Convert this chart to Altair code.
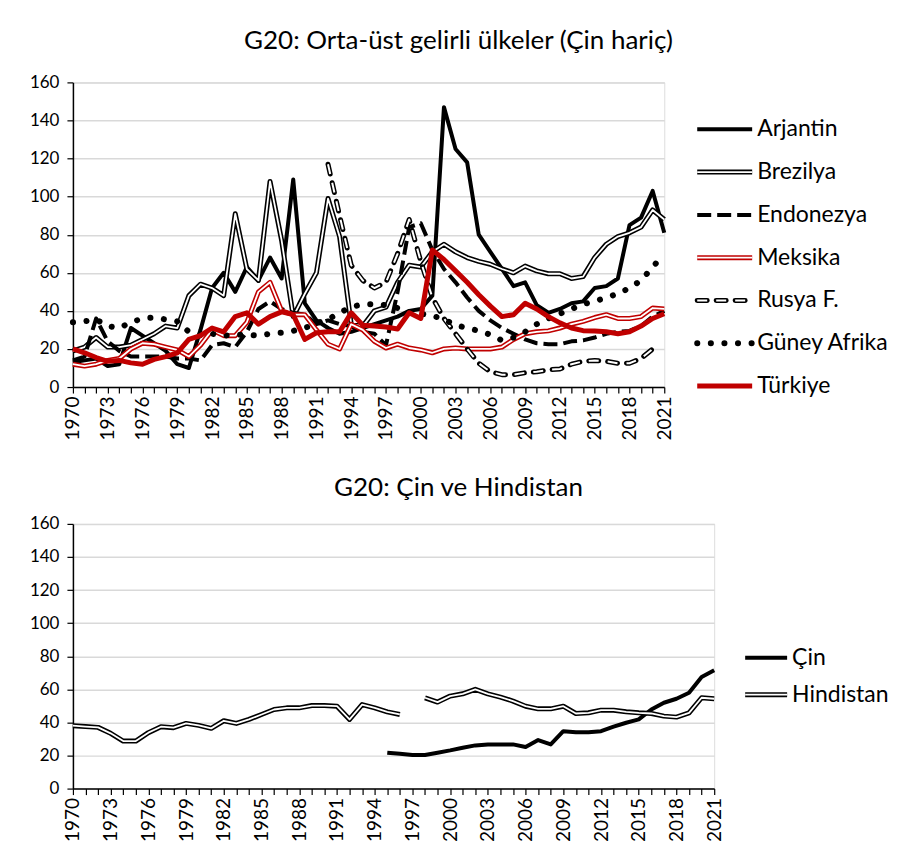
import altair as alt
import pandas as pd

years = list(range(1970, 2022))

arjantin = [13, 14, 15, 11, 12, 31, 27, 23, 19, 12,
            10, 30, 52, 60, 50, 63, 56, 68, 57, 109,
            44, 35, 31, 28, 29, 31, 33, 35, 37, 40,
            41, 48, 147, 125, 118, 80, 71, 62, 53, 55,
            43, 39, 41, 44, 45, 52, 53, 57, 85, 89,
            103, 81]
brezilya = [19, 21, 26, 21, 21, 22, 25, 28, 32, 31,
            48, 54, 52, 48, 91, 62, 56, 108, 77, 37,
            49, 60, 99, 79, 33, 32, 40, 42, 55, 64,
            63, 71, 75, 71, 68, 66, 64.5, 62, 60, 63.5,
            61, 59.5, 59.5, 57, 58, 68, 75, 79, 81, 84,
            93, 88]
endonezya = [14, 16, 36, 24, 19, 16, 16, 16, 16, 15,
             15, 14, 22, 23, 21, 29, 41, 45, 41, 39,
             38, 33, 35, 33, 32, 29, 28, 22, 50, 84,
             86, 72, 62, 55, 47, 40, 35, 31, 28, 25,
             23, 22.5, 22.5, 24, 24.5, 26, 28, 29, 29.5, 32,
             37, 40]
meksika = [12, 11, 12, 14, 15, 20, 23, 22.5, 21, 19.5,
           16, 22, 30, 27, 27, 34, 50, 55, 40, 38,
           38, 30, 22.5, 20, 33, 30, 24, 20.5, 22.5, 20.5,
           19.5, 18, 20, 20.5, 20, 20, 20, 21, 25, 28,
           29, 29.5, 31, 33, 34.5, 36.5, 38, 36, 36, 37,
           41.5, 41]
rusya = [None] * 22 + [117, 90, 64, 56, 52, 55, 70, 88,
                       66, 47, 36, 28, 20, 12.5, 8, 6.5, 6.5, 7.5,
                       8, 9, 9.5, 12, 13.5, 14, 13.5, 12.5, 12.5, 15,
                       20, None]
guney_afrika = [34, 34.5, 35.5, 32, 31, 34, 36, 36.5, 35.5, 34.5,
                29, 27, 28, 27, 27.5, 27.5, 27, 28, 28.5, 29.5,
                31, 33.5, 35.5, 39, 42, 43.5, 43.5, 43, 41.5, 39,
                38.5, 37.5, 35.5, 32.5, 31, 29.5, 27.5, 24.5, 26, 29,
                33, 36, 38.5, 41, 43.5, 45, 47, 49, 52, 56,
                63, 70]
turkiye = [20, 18, 15.5, 13.5, 14, 12.7, 12, 14.5, 16, 18,
           25, 27, 31, 29, 37, 39, 33, 37, 39.5, 38,
           25, 28.5, 29, 29, 39, 32.5, 32, 31.5, 30.5, 39,
           36, 72, 67, 61, 55, 48.5, 42.5, 37, 38, 44,
           41, 37, 33.7, 31, 29.6, 29.4, 29, 28, 29, 32,
           36, 38.5]

cin = [None] * 25 + [21.7, 21, 20.3, 20.3, 21.7,
                     23.1, 24.7, 26.1, 26.7, 26.7, 26.7, 25.1, 29.3, 26.7, 34.7,
                     34.1, 34.1, 34.7, 37.4, 39.8, 41.8, 47.8, 51.9, 54.3, 57.9,
                     67.5, 71.5]
hindistan = [38, 37.5, 37, 33.4, 28.7, 28.7, 33.8, 37.4, 36.8, 39.4,
             38.2, 36.4, 41, 39.4, 41.8, 44.8, 47.8, 48.8, 48.8, 50.2,
             50.2, 49.8, 41.8, 50.8, 48.8, 46.4, 44.8, None, 54.9, 52.3,
             55.9, 57.3, 60, 57.3, 55.3, 52.9, 49.8, 48.2, 48.2, 49.8,
             45.4, 45.8, 47.4, 47.4, 46.4, 45.8, 45.4, 43.8, 43.2, 45.8,
             54.9, 54.3]

top_names = ["Arjantin", "Brezilya", "Endonezya", "Meksika", "Rusya F.", "Güney Afrika", "Türkiye"]
top_values = [arjantin, brezilya, endonezya, meksika, rusya, guney_afrika, turkiye]
bot_names = ["Çin", "Hindistan"]
bot_values = [cin, hindistan]

y_ticks = list(range(0, 161, 20))

FONT = "Lato"
RED = "#C00000"

styles = {
    "Arjantin": [dict(color="black", strokeWidth=4)],
    "Brezilya": [dict(color="black", strokeWidth=5), dict(color="white", strokeWidth=1.8)],
    "Endonezya": [dict(color="black", strokeWidth=4, strokeDash=[14, 6])],
    "Meksika": [dict(color=RED, strokeWidth=5), dict(color="white", strokeWidth=1.8)],
    "Rusya F.": [dict(color="black", strokeWidth=5, strokeDash=[10, 9], strokeCap="round"),
                 dict(color="white", strokeWidth=2, strokeDash=[10, 9])],
    "Güney Afrika": [dict(color="black", strokeWidth=6, strokeDash=[0.1, 13.5], strokeCap="round")],
    "Türkiye": [dict(color=RED, strokeWidth=5)],
    "Çin": [dict(color="black", strokeWidth=4)],
    "Hindistan": [dict(color="black", strokeWidth=5), dict(color="white", strokeWidth=1.8)],
}


def long_df(name, values):
    rows = []
    seg = 0
    for yr, v in zip(years, values):
        if v is None:
            seg += 1
            continue
        rows.append({"year": yr, "value": v, "series": name, "seg": seg})
    return pd.DataFrame(rows)


def panel(names, values, width, height, title, dx, offset, leg_x0, leg_x1, leg_range):
    x_enc = alt.X("year:Q",
                  scale=alt.Scale(domain=[1970, 2021], nice=False, zero=False),
                  axis=alt.Axis(values=years, format="d", title=None, grid=False,
                                labelExpr="(datum.value - 1970) % 3 == 0 ? datum.label : ''",
                                labelAngle=270, labelFontSize=19, labelFont=FONT,
                                labelColor="black", labelPadding=3,
                                domainColor="black", domainWidth=1.5,
                                tickColor="black", tickSize=6, tickWidth=1.2))
    y_enc = alt.Y("value:Q",
                  scale=alt.Scale(domain=[0, 160], nice=False),
                  axis=alt.Axis(values=y_ticks, title=None, grid=True,
                                gridColor="#d9d9d9", gridWidth=1.5,
                                labelFontSize=17, labelFont=FONT, labelColor="black",
                                labelPadding=8,
                                domainColor="black", domainWidth=1.5,
                                tickColor="black", tickSize=6, tickWidth=1.2))
    data_layers = []
    for name, vals in zip(names, values):
        df = long_df(name, vals)
        for st in styles[name]:
            kw = dict(st)
            kw.setdefault("strokeJoin", "round")
            data_layers.append(
                alt.Chart(df).mark_line(**kw).encode(x=x_enc, y=y_enc, detail="seg:N")
            )
    lines = alt.layer(*data_layers)

    leg_df = pd.DataFrame({"series": names})
    leg_y = alt.Y("series:N", sort=names,
                  scale=alt.Scale(type="point", domain=names, range=leg_range, padding=0),
                  axis=None)
    leg_layers = []
    for name in names:
        sub = leg_df[leg_df.series == name]
        for st in styles[name]:
            leg_layers.append(
                alt.Chart(sub).mark_rule(**st).encode(
                    x=alt.value(leg_x0), x2=alt.value(leg_x1), y=leg_y)
            )
    leg_layers.append(
        alt.Chart(leg_df).mark_text(align="left", baseline="middle", fontSize=23,
                                    font=FONT, color="black").encode(
            x=alt.value(leg_x1 + 5), y=leg_y, text="series:N")
    )
    legend = alt.layer(*leg_layers)

    return alt.layer(lines, legend).resolve_scale(y="independent").properties(
        width=width, height=height,
        title=alt.Title(title, fontSize=26, font=FONT, fontWeight="normal",
                        color="black", anchor="middle", dx=dx, offset=offset),
    )


top = panel(top_names, top_values, 592, 305,
            "G20: Orta-üst gelirli ülkeler (Çin hariç)", 90, 19,
            625, 680, [47, 304])
bottom = panel(bot_names, bot_values, 642, 265,
               "G20: Çin ve Hindistan", 65, 14,
               673, 715, [134, 171])

chart = alt.vconcat(top, bottom, spacing=33).properties(
    padding={"left": 20, "top": 19, "right": 0, "bottom": 0}
).configure_view(stroke=None).configure(font=FONT)

chart.save("out.html", embed_options={"renderer": "svg", "actions": False})
